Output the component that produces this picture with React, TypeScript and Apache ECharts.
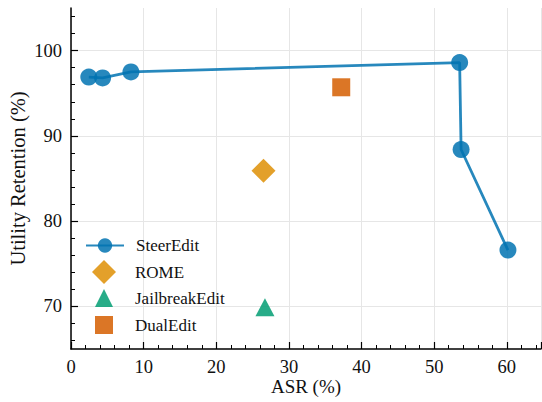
import React, { useEffect, useRef } from "react";
import * as echarts from "echarts";

const steerEditASR = [2.45, 4.35, 8.25, 53.5, 53.7, 60.15];
const steerEditUtil = [96.9, 96.8, 97.5, 98.6, 88.4, 76.6];
const romePoint = [26.5, 85.9];
const jailbreakPoint = [26.7, 69.9];
const dualEditPoint = [37.2, 95.7];
const yMajorTicks = [70, 80, 90, 100];
const yMinorTicks = [66, 68, 72, 74, 76, 78, 82, 84, 86, 88, 92, 94, 96, 98, 102, 104];

const BLUE = "#0173B2";
const ORANGE = "#DE8F05";
const GREEN = "#029E73";
const RED = "#D55E00";
const FONT = "Liberation Serif";

export default function App() {
  const ref = useRef<HTMLDivElement>(null);
  useEffect(() => {
    if (!ref.current) return;
    const chart = echarts.init(ref.current, null, { renderer: "svg" });
    const legendBase = (name: string, top: number, w: number, h: number, left: number, pad: number) => ({
      data: [name],
      orient: "vertical",
      left,
      top,
      itemWidth: w,
      itemHeight: h,
      padding: 0,
      selectedMode: false,
      textStyle: { fontFamily: FONT, fontSize: 17, color: "#111", padding: [0, 0, 0, pad] },
    });
    const tickLabel = {
      fontFamily: FONT,
      fontSize: 18.5,
      color: "#111",
    };
    chart.setOption({
      animation: false,
      textStyle: { fontFamily: FONT },
      grid: {
        left: 71,
        right: 1,
        top: 8,
        bottom: 53,
        containLabel: false,
        outerBoundsMode: "none",
      },
      xAxis: {
        type: "value",
        min: 0,
        max: 64.7,
        interval: 10,
        name: "ASR (%)",
        nameLocation: "middle",
        nameGap: 28,
        nameMoveOverlap: false,
        nameTextStyle: { fontFamily: FONT, fontSize: 19, color: "#111" },
        axisLine: { show: true, onZero: false, lineStyle: { color: "#000", width: 1.5 } },
        axisTick: { show: true, inside: true, length: 7, lineStyle: { color: "#000", width: 1.2 } },
        minorTick: { show: true, splitNumber: 5, length: 4, lineStyle: { color: "#000", width: 1 } },
        axisLabel: { ...tickLabel, margin: 8, showMaxLabel: false },
        splitLine: { show: true, lineStyle: { color: "#e6e6e6", width: 1 } },
      },
      yAxis: [
        {
          type: "value",
          min: 65,
          max: 105,
          name: "Utility Retention (%)",
          nameLocation: "middle",
          nameGap: 43,
          nameMoveOverlap: false,
          nameTextStyle: { fontFamily: FONT, fontSize: 20.5, color: "#111" },
          axisLine: { show: true, onZero: false, lineStyle: { color: "#000", width: 1.5 } },
          axisTick: {
            show: true,
            inside: true,
            length: 7,
            customValues: yMajorTicks,
            lineStyle: { color: "#000", width: 1.2 },
          },
          axisLabel: { ...tickLabel, margin: 9, customValues: yMajorTicks },
          splitLine: { show: true, lineStyle: { color: "#e6e6e6", width: 1 } },
        },
        {
          type: "value",
          min: 65,
          max: 105,
          position: "left",
          axisLine: { show: false },
          axisTick: {
            show: true,
            inside: true,
            length: 4,
            customValues: yMinorTicks,
            lineStyle: { color: "#000", width: 1 },
          },
          axisLabel: { show: false },
          splitLine: { show: false },
        },
      ],
      legend: [
        legendBase("SteerEdit", 237, 38, 18, 85, 7),
        legendBase("ROME", 260, 24, 24, 92, 14),
        legendBase("JailbreakEdit", 289, 18, 18, 95, 17),
        legendBase("DualEdit", 316, 18, 18, 95, 17),
      ],
      series: [
        {
          name: "SteerEdit",
          type: "line",
          data: steerEditASR.map((x, i) => [x, steerEditUtil[i]]),
          symbol: "circle",
          symbolSize: 17,
          lineStyle: { color: BLUE, width: 2.8, opacity: 0.85 },
          itemStyle: { color: BLUE, opacity: 0.85 },
          z: 5,
        },
        {
          name: "ROME",
          type: "scatter",
          data: [romePoint],
          symbol: "diamond",
          symbolSize: 24,
          itemStyle: { color: ORANGE, opacity: 0.85 },
        },
        {
          name: "JailbreakEdit",
          type: "scatter",
          data: [jailbreakPoint],
          symbol: "triangle",
          symbolSize: [19, 18],
          itemStyle: { color: GREEN, opacity: 0.85 },
        },
        {
          name: "DualEdit",
          type: "scatter",
          data: [dualEditPoint],
          symbol: "rect",
          symbolSize: 18,
          itemStyle: { color: RED, opacity: 0.85 },
        },
      ],
    });
    return () => chart.dispose();
  }, []);
  return <div ref={ref} style={{ width: 542, height: 402, position: "absolute", left: 0, top: 0 }} />;
}
